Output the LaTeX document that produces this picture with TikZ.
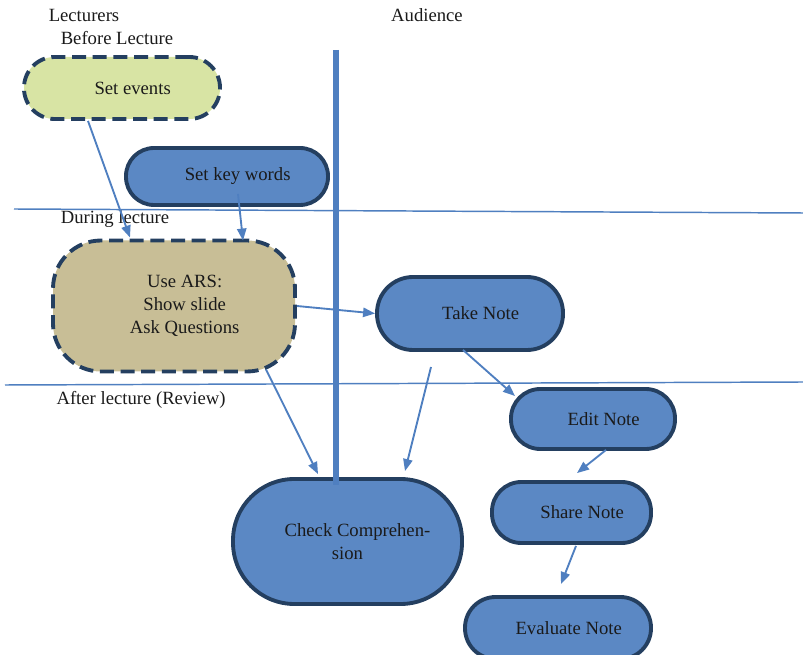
\documentclass[tikz,border=0pt]{standalone}
\usepackage{fontspec}
\setmainfont{Liberation Serif}
\usetikzlibrary{arrows.meta,calc}
\definecolor{nodeblue}{HTML}{5B88C4}
\definecolor{lineblue}{HTML}{4F7FC0}
\definecolor{navy}{HTML}{243F60}
\definecolor{tan}{HTML}{C8BE96}
\definecolor{lime}{HTML}{D8E4A4}
\definecolor{ink}{HTML}{1A1A1A}
\begin{document}
\begin{tikzpicture}[x=0.75pt,y=-0.75pt,
  every node/.style={text=ink,font=\fontsize{14}{17.25}\selectfont},
  box/.style={draw=navy,line width=2.9pt,inner sep=0pt,align=center},
  dashbox/.style={box,dash pattern=on 10.5pt off 5pt},
  conn/.style={draw=lineblue,line width=1.4pt,-{Triangle[length=9pt,width=7pt]}},
  sep/.style={draw=lineblue,line width=1.1pt},
  lbl/.style={inner sep=0pt}]
\useasboundingbox (0,0) rectangle (803,655);
\clip (0,0) rectangle (803,655);
% section labels
\node[lbl] (lect) at (84,15) {Lecturers};
\node[lbl] (bef) at (117,38) {Before Lecture};
\node[lbl] (aud) at (427,15) {Audience};
\node[lbl] (dur) at (115,219) {During lecture};
\node[lbl] (aft) at (141,400) {After lecture (Review)};
% separators
\draw[sep] (14,209) -- (803,213);
\draw[sep] (5,385) -- (803,382);
% nodes
\node[dashbox,fill=lime,minimum width=147pt,minimum height=46.5pt,rounded corners=23pt] (se) at (122,88) {\hspace*{16pt}Set events};
\node[box,fill=nodeblue,minimum width=151.5pt,minimum height=42.75pt,rounded corners=21pt] (skw) at (227,176.5) {\hspace*{16pt}Set key words};
\node[dashbox,fill=tan,minimum width=181.5pt,minimum height=98.25pt,rounded corners=36pt] (ars) at (174,306) {\hspace*{16pt}Use ARS:\\\hspace*{16pt}Show slide\\\hspace*{16pt}Ask Questions};
\node[box,fill=nodeblue,minimum width=139.5pt,minimum height=54.75pt,rounded corners=27pt] (tn) at (470,313.5) {\hspace*{16pt}Take Note};
\node[box,fill=nodeblue,minimum width=123pt,minimum height=45pt,rounded corners=22pt] (en) at (593,419) {\hspace*{16pt}Edit Note};
\node[box,fill=nodeblue,minimum width=119.25pt,minimum height=45.75pt,rounded corners=22pt] (sn) at (571.5,512.5) {\hspace*{16pt}Share Note};
\node[box,fill=nodeblue,minimum width=139.5pt,minimum height=46.5pt,rounded corners=23pt] (ev) at (558,628) {\hspace*{16pt}Evaluate Note};
\node[box,fill=nodeblue,minimum width=171.75pt,minimum height=93.75pt,rounded corners=46pt] (cc) at (347.5,541.5) {\hspace*{15pt}Check Comprehen-\\sion};
% audience divider
\draw[lineblue,line width=4.5pt] (336,50) -- (336,485);
% connectors
\coordinate (free) at (431,367);
\draw[conn] ($(se.south)+(-34,0)$) -- ($(ars.north)+(-44,-1)$);
\draw[conn] ($(skw.south)+(11,-13)$) -- ($(ars.north)+(69,2)$);
\draw[conn] (ars.east) -- (tn.west);
\draw[conn] ($(ars.south)+(92,-4)$) -- ($(cc.north)+(-29.5,-3)$);
\draw[conn] (free) -- ($(cc.north)+(57.5,-6)$);
\draw[conn] ($(tn.south)+(-7,-2)$) -- ($(en.center)+(-78,-23)$);
\draw[conn] ($(en.south)+(13,-1)$) -- ($(sn.north)+(5.5,-7)$);
\draw[conn] ($(sn.south)+(4.5,1)$) -- ($(ev.north)+(3,-11)$);
\end{tikzpicture}
\end{document}
